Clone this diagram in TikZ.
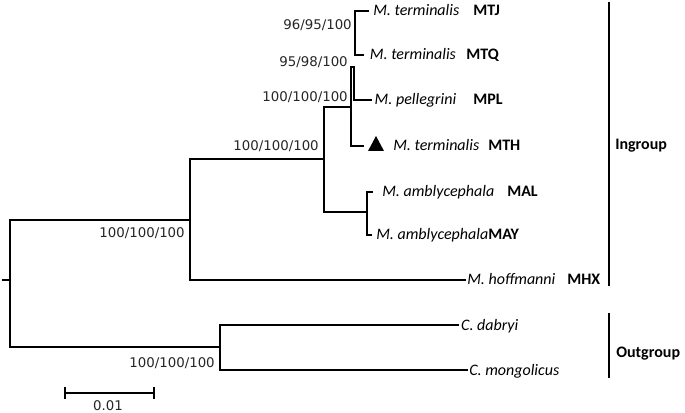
\documentclass[tikz,border=0pt]{standalone}
\usepackage{fontspec}
\setmainfont{Carlito}
\newfontfamily\numfont{DejaVu Sans}
\usetikzlibrary{arrows.meta}
\begin{document}
\begin{tikzpicture}[x=0.75pt,y=-0.75pt,
  br/.style={line width=1.2pt, line join=miter, line cap=rect},
  thickbr/.style={line width=2.2pt},
  grpbar/.style={line width=2.2pt},
  leaf/.style={anchor=west, inner ysep=0pt, inner xsep=#1, text height=7.5pt, text depth=0pt, font=\fontsize{12}{14}\selectfont\itshape},
  leaf/.default=2pt,
  code/.style={anchor=west, inner sep=0pt, text height=7.5pt, text depth=0pt, font=\fontsize{12}{14}\selectfont\bfseries},
  sup/.style={anchor=base east, inner sep=0pt, font=\fontsize{10}{12}\numfont, text=black!85},
  grp/.style={anchor=west, inner sep=0pt, text height=7.5pt, text depth=0pt, font=\fontsize{12}{14}\selectfont\bfseries}]
\useasboundingbox (0,0) rectangle (685,413);

% internal nodes
\coordinate (stub) at (3,280);
\coordinate (root) at (10,280);
\coordinate (nI) at (190,220);
\coordinate (nO) at (220,347);
\coordinate (n1) at (324,159);
\coordinate (n2) at (351,107);
\coordinate (n3) at (354,67);
\coordinate (n4) at (355,32);
\coordinate (nA) at (367,212);
\coordinate (mthend) at (363,146);

% leaves
\node[leaf=3.75pt] (mtj) at (368,11) {M. terminalis};
\node[leaf=5pt] (mtq) at (363,55) {M. terminalis};
\node[leaf=2.6pt] (mpl) at (371,100) {M. pellegrini};
\node[leaf=0pt] (mth) at (393,146) {M. terminalis};
\node[leaf=7.5pt] (mal) at (372,192) {M. amblycephala};
\node[leaf=3.75pt] (may) at (371,235) {M. amblycephala};
\node[leaf=1.5pt] (mhx) at (465,280) {M. hoffmanni};
\node[leaf=2.2pt] (cda) at (458,325) {C. dabryi};
\node[leaf=1.5pt] (cmo) at (467,370) {C. mongolicus};

% codes
\node[code] (cMTJ) at (473,11) {MTJ};
\node[code] (cMTQ) at (466,55) {MTQ};
\node[code] (cMPL) at (473,100) {MPL};
\node[code] (cMTH) at (488,146) {MTH};
\node[code] (cMAL) at (507,192) {MAL};
\node[code] (cMAY) at (488,235) {MAY};
\node[code] (cMHX) at (567,280) {MHX};

% marker
\fill (368,151) -- (384,151) -- (376,136) -- cycle;

% branches
\draw[br] (stub) -- (root);
\draw[br] (nI) -| (root) |- (nO);
\draw[br] (n1) -| (nI) |- (mhx.west);
\draw[br] (cda.west) -| (nO) |- (cmo.west);
\draw[br] (n2) -| (n1) |- (nA);
\draw[br] (mal.west) -| (nA) |- (may.west);
\draw[br] (n3) -| (n2) |- (mthend);
\draw[br] (n3) |- (mpl.west);
\draw[br] (mtj.west) -| (n4) |- (mtq.west);
\draw[thickbr] (n4) -- (n4 |- mtq.west);

% support values
\node[sup] (s1) at (352,30) {96/95/100};
\node[sup] (s2) at (348,67) {95/98/100};
\node[sup] (s3) at (348,102) {100/100/100};
\node[sup] (s4) at (319,151) {100/100/100};
\node[sup] (s5) at (185,238) {100/100/100};
\node[sup] (s6) at (215,367) {100/100/100};

% group bars
\coordinate (igt) at (609,2);
\coordinate (igb) at (609,286);
\coordinate (ogt) at (609,313);
\coordinate (ogb) at (609,378);
\draw[grpbar] (igt) -- (igb);
\draw[grpbar] (ogt) -- (ogb);
\node[grp] (ing) at (615,145) {Ingroup};
\node[grp] (outg) at (616,352) {Outgroup};

% scale bar
\coordinate (sb1) at (64,393);
\coordinate (sb2) at (155,393);
\draw[br, line cap=butt, {Bar[width=8.5pt,line width=1.2pt]}-{Bar[width=8.5pt,line width=1.2pt]}] (sb1) -- (sb2);
\node[anchor=base, inner sep=0pt, font=\fontsize{10}{12}\numfont, text=black!85] (sbl) at (108,410) {0.01};
\end{tikzpicture}
\end{document}
